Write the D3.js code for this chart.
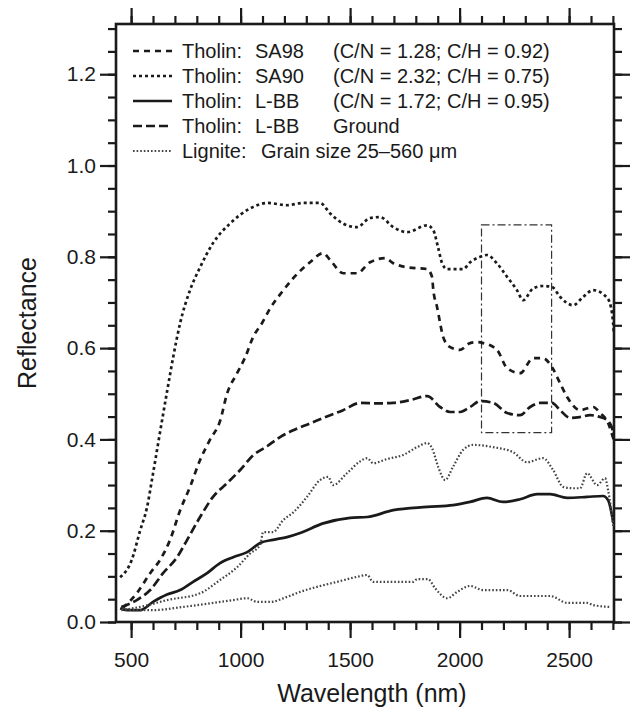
<!DOCTYPE html>
<html>
<head>
<meta charset="utf-8">
<script src="https://cdn.jsdelivr.net/npm/d3@7"></script>
<style>
  body { margin: 0; background: #fff; }
  svg { font-family: "Liberation Sans", Arial, sans-serif; }
  .axis path { display: none; }
  .axis line { stroke: #1a1a1a; stroke-width: 2.2; }
  .axis text { font-size: 21px; fill: #1a1a1a; }
</style>
</head>
<body>
<div id="chart"></div>
<script>
// --- data: [wavelength nm, reflectance] ---
const sa98 = [[460,0.03],[526,0.063],[587,0.107],[632,0.136],[678,0.18],[724,0.245],[769,0.296],[815,0.355],[861,0.40],[906,0.44],[938,0.50],[984,0.545],[1021,0.58],[1057,0.624],[1098,0.655],[1135,0.687],[1189,0.723],[1240,0.753],[1317,0.788],[1377,0.808],[1409,0.793],[1468,0.764],[1532,0.764],[1591,0.788],[1660,0.797],[1697,0.786],[1760,0.777],[1852,0.773],[1874,0.756],[1880,0.727],[1897,0.69],[1911,0.655],[1925,0.624],[1957,0.602],[2002,0.596],[2048,0.611],[2080,0.613],[2107,0.611],[2171,0.596],[2217,0.556],[2276,0.545],[2336,0.578],[2381,0.578],[2422,0.558],[2459,0.523],[2491,0.493],[2550,0.464],[2610,0.471],[2641,0.458],[2678,0.436],[2700,0.405]];
const sa90 = [[450,0.098],[503,0.136],[541,0.20],[572,0.25],[600,0.325],[630,0.41],[666,0.51],[692,0.58],[724,0.655],[769,0.727],[815,0.777],[874,0.83],[952,0.873],[1043,0.906],[1125,0.918],[1212,0.913],[1285,0.918],[1363,0.918],[1409,0.895],[1468,0.873],[1532,0.865],[1591,0.885],[1637,0.887],[1697,0.865],[1760,0.854],[1852,0.869],[1880,0.858],[1902,0.82],[1920,0.786],[1943,0.773],[2016,0.773],[2048,0.788],[2094,0.80],[2125,0.804],[2170,0.786],[2217,0.756],[2262,0.727],[2290,0.705],[2336,0.731],[2381,0.736],[2422,0.734],[2459,0.712],[2518,0.694],[2564,0.712],[2610,0.727],[2674,0.71],[2696,0.677],[2705,0.63]];
const lbb = [[450,0.03],[480,0.026],[541,0.026],[600,0.044],[664,0.06],[724,0.07],[783,0.088],[847,0.107],[906,0.129],[966,0.142],[1030,0.153],[1089,0.173],[1148,0.18],[1212,0.186],[1272,0.195],[1377,0.216],[1500,0.228],[1578,0.23],[1697,0.245],[1852,0.252],[1970,0.256],[2048,0.263],[2125,0.272],[2198,0.263],[2276,0.269],[2354,0.28],[2413,0.28],[2491,0.272],[2582,0.274],[2655,0.276],[2678,0.267],[2702,0.217]];
const lbbGround = [[455,0.033],[526,0.048],[587,0.07],[646,0.107],[710,0.142],[756,0.18],[815,0.23],[874,0.274],[938,0.304],[998,0.333],[1057,0.365],[1121,0.385],[1180,0.405],[1240,0.42],[1317,0.435],[1377,0.447],[1468,0.464],[1546,0.48],[1623,0.479],[1697,0.48],[1774,0.486],[1852,0.495],[1911,0.471],[1957,0.46],[2002,0.46],[2048,0.471],[2094,0.484],[2153,0.48],[2217,0.458],[2276,0.453],[2322,0.471],[2368,0.48],[2422,0.48],[2459,0.464],[2505,0.447],[2550,0.449],[2596,0.453],[2641,0.449],[2673,0.442],[2696,0.425],[2702,0.40]];
const ligniteUpper = [[455,0.026],[560,0.035],[664,0.048],[815,0.063],[906,0.092],[984,0.12],[1043,0.15],[1090,0.17],[1103,0.197],[1148,0.197],[1194,0.223],[1240,0.24],[1303,0.274],[1363,0.311],[1400,0.318],[1422,0.30],[1486,0.326],[1546,0.352],[1578,0.359],[1605,0.348],[1669,0.357],[1742,0.366],[1806,0.383],[1852,0.392],[1874,0.381],[1902,0.34],[1934,0.311],[1970,0.34],[2016,0.377],[2062,0.388],[2153,0.383],[2244,0.372],[2308,0.35],[2381,0.359],[2427,0.333],[2473,0.296],[2518,0.293],[2550,0.293],[2582,0.326],[2628,0.30],[2664,0.315],[2678,0.289],[2702,0.208]];
const ligniteLower = [[460,0.03],[510,0.026],[600,0.026],[737,0.033],[847,0.04],[966,0.048],[1030,0.052],[1075,0.044],[1135,0.044],[1212,0.055],[1272,0.066],[1349,0.077],[1441,0.088],[1532,0.099],[1578,0.103],[1605,0.088],[1697,0.088],[1788,0.088],[1806,0.094],[1856,0.094],[1888,0.074],[1943,0.052],[1989,0.066],[2048,0.079],[2107,0.07],[2217,0.07],[2276,0.057],[2413,0.057],[2491,0.042],[2582,0.042],[2610,0.037],[2687,0.033]];

// highlighted window (dash-dot box): wavelength and reflectance range
const boxWl = [2100, 2420];
const boxR = [0.415, 0.87];

const legendNames = ["Tholin:", "Tholin:", "Tholin:", "Tholin:", "Lignite:"];
const legendSamples = ["SA98", "SA90", "L-BB", "L-BB", "Grain size 25\u2013560 \u03bcm"];
const legendNotes = ["(C/N = 1.28; C/H = 0.92)", "(C/N = 2.32; C/H = 0.75)", "(C/N = 1.72; C/H = 0.95)", "Ground", ""];

// --- styles per series ---
const STYLES = [
  { data: sa98, dash: "6,5", width: 2.7, color: "#1a1a1a" },
  { data: sa90, dash: "3,3", width: 2.7, color: "#1a1a1a" },
  { data: lbb, dash: null, width: 2.7, color: "#1a1a1a" },
  { data: lbbGround, dash: "9,4", width: 2.7, color: "#1a1a1a" },
  { data: ligniteUpper, dash: "1.6,2", width: 2.2, color: "#444" },
  { data: ligniteLower, dash: "1.6,2", width: 2.2, color: "#444" }
];

const width = 634, height = 715;
const margin = { top: 24, right: 20, bottom: 93, left: 116 };
const innerW = width - margin.left - margin.right;
const innerH = height - margin.top - margin.bottom;

const x = d3.scaleLinear().domain([431, 2705]).range([0, innerW]);
const y = d3.scaleLinear().domain([0, 1.31]).range([innerH, 0]);

const svg = d3.select("#chart").append("svg")
  .attr("width", width)
  .attr("height", height);
const g = svg.append("g").attr("transform", `translate(${margin.left},${margin.top})`);

// ticks
const xMinor = d3.range(500, 2701, 100);
const xMajor = [500, 1000, 1500, 2000, 2500];
const yMinor = d3.range(0, 1.31, 0.05).map(v => +v.toFixed(2));
const yMajor = [0, 0.2, 0.4, 0.6, 0.8, 1.0, 1.2];

function addAxis(axis, transform) {
  g.append("g").attr("class", "axis").attr("transform", transform).call(axis);
}
addAxis(d3.axisBottom(x).tickValues(xMinor).tickSize(8).tickFormat(""), `translate(0,${innerH})`);
addAxis(d3.axisBottom(x).tickValues(xMajor).tickSize(16).tickPadding(14).tickFormat(d3.format("d")), `translate(0,${innerH})`);
addAxis(d3.axisTop(x).tickValues(xMinor).tickSize(8).tickFormat(""), "translate(0,0)");
addAxis(d3.axisTop(x).tickValues(xMajor).tickSize(16).tickFormat(""), "translate(0,0)");
addAxis(d3.axisLeft(y).tickValues(yMinor).tickSize(8).tickFormat(""), "translate(0,0)");
addAxis(d3.axisLeft(y).tickValues(yMajor).tickSize(16).tickPadding(4).tickFormat(d3.format(".1f")), "translate(0,0)");
addAxis(d3.axisRight(y).tickValues(yMinor).tickSize(8).tickFormat(""), `translate(${innerW},0)`);
addAxis(d3.axisRight(y).tickValues(yMajor).tickSize(16).tickFormat(""), `translate(${innerW},0)`);

// frame
g.append("rect")
  .attr("width", innerW).attr("height", innerH)
  .attr("fill", "none").attr("stroke", "#1a1a1a").attr("stroke-width", 2.6);

// dash-dot box
g.append("rect")
  .attr("x", x(boxWl[0])).attr("y", y(boxR[1]))
  .attr("width", x(boxWl[1]) - x(boxWl[0]))
  .attr("height", y(boxR[0]) - y(boxR[1]))
  .attr("fill", "none").attr("stroke", "#333").attr("stroke-width", 1.2)
  .attr("stroke-dasharray", "8,3,2,3");

// curves
const line = d3.line().x(d => x(d[0])).y(d => y(d[1])).curve(d3.curveMonotoneX);
STYLES.forEach(s => {
  g.append("path")
    .datum(s.data)
    .attr("d", line)
    .attr("fill", "none")
    .attr("stroke", s.color)
    .attr("stroke-width", s.width)
    .attr("stroke-dasharray", s.dash);
});

// legend
const legend = g.append("g");
legendNames.forEach((name, i) => {
  const st = STYLES[i];
  const cy = 27 + i * 25;
  legend.append("line")
    .attr("x1", 17).attr("x2", 56).attr("y1", cy).attr("y2", cy)
    .attr("stroke", st.color).attr("stroke-width", st.width)
    .attr("stroke-dasharray", st.dash);
  const t = legend.append("text").attr("y", cy + 7).attr("font-size", 20).attr("fill", "#1a1a1a");
  t.append("tspan").attr("x", 66).text(name);
  if (i < 4) {
    t.append("tspan").attr("x", 139).text(legendSamples[i]);
    t.append("tspan").attr("x", 217).text(legendNotes[i]);
  } else {
    t.append("tspan").attr("x", 145).text(legendSamples[i]);
  }
});

// axis titles
svg.append("text")
  .attr("x", 372).attr("y", 702)
  .attr("text-anchor", "middle").attr("font-size", 25).attr("fill", "#1a1a1a")
  .text("Wavelength (nm)");
svg.append("text")
  .attr("transform", "translate(36,323) rotate(-90)")
  .attr("text-anchor", "middle").attr("font-size", 25).attr("fill", "#1a1a1a")
  .text("Reflectance");
</script>
</body>
</html>
